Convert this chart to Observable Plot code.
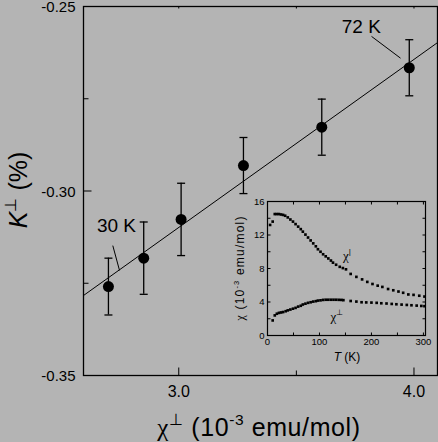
<!DOCTYPE html>
<html>
<head>
<meta charset="UTF-8">
<script src="https://cdn.jsdelivr.net/npm/d3@7"></script>
<script src="https://cdn.jsdelivr.net/npm/@observablehq/plot@0.6"></script>
<style>
  body { margin: 0; background: #b4b4b4; }
  #chart { position: relative; width: 438px; height: 442px; }
  #chart svg { position: absolute; left: 0; top: 0; overflow: visible; }
  #chart svg.inset { left: 225px; top: 195px; }
</style>
</head>
<body>
<div id="chart"></div>
<script>
// main panel: K perp vs chi perp
const chiPerp = [2.701, 2.851, 3.010, 3.275, 3.608, 3.980];
const kPerp = [-0.3259, -0.3182, -0.3077, -0.2931, -0.2827, -0.2666];
const kErr = [0.0077, 0.0098, 0.0098, 0.0076, 0.0076, 0.0076];
const fitSlope = 0.04554, fitIntercept = -0.4465;
const xDomain = [2.595, 4.1], yDomain = [-0.35, -0.25];
const xTicks = [3.0, 4.0], xMinor = [3.5];
const yTicks = [-0.35, -0.30, -0.25], yMinor = [-0.325, -0.275];
const notes = ["30 K", "72 K"];
const noteX = [2.735, 3.776], noteY = [-0.3094, -0.2554];
const leadX1 = [2.7196, 3.8195], leadY1 = [-0.3148, -0.2581];
const leadX2 = [2.748, 3.9428], leadY2 = [-0.3215, -0.2640];

// inset: chi(T) for both directions
const tPar = [5, 10, 14, 18, 22, 26, 30, 34, 39, 44, 49, 54, 59, 64, 68, 73, 78, 83, 88, 93, 97, 102, 107, 112, 117, 122, 126, 132, 139, 145, 151, 160, 171, 182, 192, 202, 212, 221, 232, 242, 252, 261, 271, 281, 292, 302];
const chiPar = [13.2, 13.6, 14.5, 14.5, 14.5, 14.45, 14.4, 14.3, 14.1, 13.85, 13.6, 13.3, 13.0, 12.7, 12.4, 12.05, 11.7, 11.35, 11.0, 10.65, 10.3, 10.0, 9.7, 9.45, 9.2, 8.95, 8.7, 8.45, 8.2, 8.05, 7.9, 7.35, 7.0, 6.7, 6.4, 6.15, 5.95, 5.8, 5.55, 5.4, 5.25, 5.1, 4.9, 4.85, 4.75, 4.65];
const tPerp = [10, 14, 18, 22, 26, 30, 35, 39, 44, 49, 54, 59, 64, 68, 73, 78, 83, 88, 93, 97, 102, 107, 112, 117, 122, 127, 132, 137, 142, 146, 160, 171, 181, 190, 200, 210, 219, 229, 239, 248, 258, 268, 277, 287, 296, 302];
const chiPerpT = [1.8, 2.4, 2.6, 2.7, 2.75, 2.8, 2.9, 3.0, 3.1, 3.2, 3.3, 3.45, 3.55, 3.7, 3.8, 3.9, 3.97, 4.05, 4.1, 4.17, 4.2, 4.25, 4.27, 4.27, 4.27, 4.27, 4.27, 4.26, 4.25, 4.22, 4.12, 4.05, 3.97, 3.95, 3.93, 3.9, 3.85, 3.82, 3.77, 3.73, 3.69, 3.65, 3.61, 3.57, 3.53, 3.5];
const tDomain = [0, 304], cDomain = [0, 16];
const tTicks = [0, 100, 200, 300], tMinor = [0, 50, 100, 150, 200, 250, 300];
const cTicks = [0, 4, 8, 12, 16], cMinor = [0, 2, 4, 6, 8, 10, 12, 14, 16];

const font = '"Liberation Sans", Arial, sans-serif';

// short line symbols for inward ticks and error bar caps
const dash = (dx, dy) => ({
  draw(ctx, size) {
    const r = Math.sqrt(size / Math.PI);
    ctx.moveTo(0, 0);
    ctx.lineTo(dx * r, dy * r);
  }
});
const cap = {
  draw(ctx, size) {
    const r = Math.sqrt(size / Math.PI);
    ctx.moveTo(-r, 0);
    ctx.lineTo(r, 0);
  }
};

const pts = chiPerp.map((x, i) => ({x, k: kPerp[i], e: kErr[i]}));
const fit = xDomain.map(x => ({x, y: fitIntercept + fitSlope * x}));
const ann = notes.map((text, i) => ({text, x: noteX[i], y: noteY[i],
  x1: leadX1[i], y1: leadY1[i], x2: leadX2[i], y2: leadY2[i]}));

const tick = (data, opts) => Plot.dot(data, {fill: "none", stroke: "black", strokeWidth: 1, ...opts});

const main = Plot.plot({
  width: 438,
  height: 442,
  marginLeft: 83,
  marginRight: 1,
  marginTop: 6,
  marginBottom: 67,
  x: {domain: xDomain},
  y: {domain: yDomain},
  style: {background: "transparent", fontFamily: font, color: "black", overflow: "visible"},
  marks: [
    Plot.frame({stroke: "black", strokeWidth: 1.3}),
    tick(yTicks, {x: () => xDomain[0], y: d => d, symbol: dash(1, 0), r: 8}),
    tick(yMinor, {x: () => xDomain[0], y: d => d, symbol: dash(1, 0), r: 5}),
    tick(xTicks, {x: d => d, y: () => yDomain[0], symbol: dash(0, -1), r: 8}),
    tick(xMinor, {x: d => d, y: () => yDomain[0], symbol: dash(0, -1), r: 5}),
    tick([...xTicks, ...xMinor], {x: d => d, y: () => yDomain[1], symbol: dash(0, 1), r: 2}),
    Plot.axisX(xTicks, {tickSize: 0, tickPadding: 10, tickFormat: d => d.toFixed(1), fontSize: 16, label: null}),
    Plot.axisY(yTicks, {tickSize: 0, tickPadding: 8, tickFormat: d => d.toFixed(2), fontSize: 15, dy: 1, label: null}),
    Plot.line(fit, {x: "x", y: "y", stroke: "black", strokeWidth: 1, clip: true}),
    Plot.ruleX(pts, {x: "x", y1: d => d.k - d.e, y2: d => d.k + d.e, stroke: "black", strokeWidth: 1.3}),
    tick(pts, {x: "x", y: d => d.k - d.e, symbol: cap, r: 4, strokeWidth: 1.3}),
    tick(pts, {x: "x", y: d => d.k + d.e, symbol: cap, r: 4, strokeWidth: 1.3}),
    Plot.dot(pts, {x: "x", y: "k", r: 5.5, fill: "black"}),
    Plot.link(ann, {x1: "x1", y1: "y1", x2: "x2", y2: "y2", stroke: "black", strokeWidth: 1}),
    Plot.text(ann, {x: "x", y: "y", text: "text", fontSize: 19, fill: "black"})
  ]
});

const inset = Plot.plot({
  width: 212,
  height: 170,
  marginLeft: 42,
  marginRight: 12,
  marginTop: 6,
  marginBottom: 30,
  x: {domain: tDomain},
  y: {domain: cDomain},
  style: {background: "transparent", fontFamily: font, color: "black", overflow: "visible"},
  marks: [
    Plot.frame({stroke: "black", strokeWidth: 1.2}),
    tick(cMinor, {x: () => tDomain[0], y: d => d, symbol: dash(1, 0), r: 3}),
    tick(cMinor, {x: () => tDomain[1], y: d => d, symbol: dash(-1, 0), r: 3}),
    tick(tMinor, {x: d => d, y: () => cDomain[0], symbol: dash(0, -1), r: 3}),
    tick(tMinor, {x: d => d, y: () => cDomain[1], symbol: dash(0, 1), r: 3}),
    Plot.axisX(tTicks, {tickSize: 0, tickPadding: 3, fontSize: 9.5, label: null}),
    Plot.axisY(cTicks, {tickSize: 0, tickPadding: 3, fontSize: 9.5, label: null}),
    Plot.dot(tPar.map((t, i) => ({t, c: chiPar[i]})), {x: "t", y: "c", symbol: "square", r: 1.5, fill: "black"}),
    Plot.dot(tPerp.map((t, i) => ({t, c: chiPerpT[i]})), {x: "t", y: "c", symbol: "square", r: 1.5, fill: "black"})
  ]
});
inset.classList.add("inset");

// labels with superscripts and italics
function label(svg, x, y, parts, size, rotate, spacing = 0) {
  const t = d3.select(svg).append("text")
    .attr("transform", `translate(${x},${y})` + (rotate ? ` rotate(${rotate})` : ""))
    .attr("text-anchor", "middle")
    .attr("y", size * 0.35)
    .attr("fill", "black")
    .attr("font-family", font)
    .attr("font-size", size)
    .attr("letter-spacing", spacing);
  let shift = 0;
  for (const p of parts) {
    const s = p.sup ? -size * 0.42 : 0;
    const span = t.append("tspan").attr("dy", s - shift).text(p.t);
    shift = s;
    if (p.sup) span.attr("font-size", size * 0.62);
    if (p.it) span.attr("font-style", "italic");
    if (p.serif) span.attr("font-family", '"Liberation Serif", serif');
  }
}

label(main, 259, 427, [{t: "χ", serif: true}, {t: "⊥", sup: true}, {t: " (10"}, {t: "-3", sup: true}, {t: " emu/mol)"}], 25, 0, 0.6);
label(main, 18, 190, [{t: "K", it: true}, {t: "⊥", sup: true}, {t: " (%)"}], 25, -90);

label(inset, 15, 73, [{t: "χ", serif: true}, {t: " (10"}, {t: "-3", sup: true}, {t: " emu/mol)"}], 12, -90, 1.2);
label(inset, 122, 162, [{t: "T", it: true}, {t: " (K)"}], 12);
label(inset, 122, 60, [{t: "χ", serif: true}, {t: "|", sup: true}], 13);
label(inset, 112, 121, [{t: "χ", serif: true}, {t: "⊥", sup: true}], 13);

document.querySelector("#chart").append(main, inset);
</script>
</body>
</html>
